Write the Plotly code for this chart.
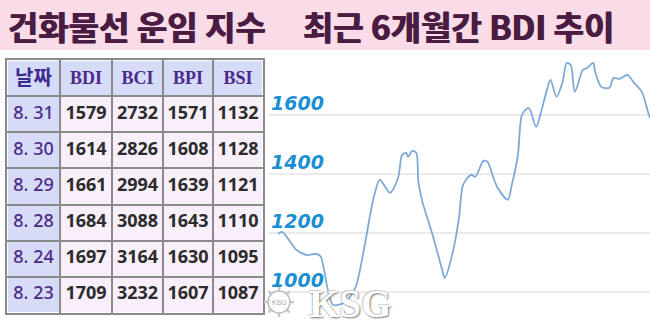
import plotly.graph_objects as go

# ---------------- data ----------------
table_dates = ["8. 31", "8. 30", "8. 29", "8. 28", "8. 24", "8. 23"]
bdi = [1579, 1614, 1661, 1684, 1697, 1709]
bci = [2732, 2826, 2994, 3088, 3164, 3232]
bpi = [1571, 1608, 1639, 1643, 1630, 1607]
bsi = [1132, 1128, 1121, 1110, 1095, 1087]
header_labels = ["날짜", "BDI", "BCI", "BPI", "BSI"]

line_dates = [
    "2018-03-01", "2018-03-03", "2018-03-10", "2018-03-15", "2018-03-20", "2018-03-22",
    "2018-03-28", "2018-04-03", "2018-04-08", "2018-04-12", "2018-04-15", "2018-04-17",
    "2018-04-20", "2018-04-25", "2018-04-29", "2018-05-01", "2018-05-03", "2018-05-04",
    "2018-05-06", "2018-05-08", "2018-05-09", "2018-05-11", "2018-05-16", "2018-05-21",
    "2018-05-22", "2018-05-26", "2018-05-29", "2018-05-31", "2018-06-04", "2018-06-06",
    "2018-06-10", "2018-06-12", "2018-06-15", "2018-06-17", "2018-06-22", "2018-06-24",
    "2018-06-27", "2018-06-29", "2018-07-02", "2018-07-03", "2018-07-06", "2018-07-08",
    "2018-07-11", "2018-07-13", "2018-07-16", "2018-07-19", "2018-07-21", "2018-07-23",
    "2018-07-25", "2018-07-29", "2018-07-31", "2018-08-03", "2018-08-04", "2018-08-07",
    "2018-08-11", "2018-08-13", "2018-08-16", "2018-08-20", "2018-08-22", "2018-08-24",
    "2018-08-27", "2018-08-30", "2018-08-31",
]
line_values = [
    1197, 1203, 1142, 1125, 1129, 1119,
    956, 966, 1014, 1136, 1251, 1319,
    1380, 1336, 1386, 1464, 1471, 1458,
    1478, 1471, 1373, 1305, 1193, 1068,
    1047, 1136, 1251, 1363, 1397, 1390,
    1444, 1441, 1386, 1353, 1312, 1363,
    1464, 1600, 1624, 1617, 1559, 1600,
    1678, 1719, 1661, 1712, 1776, 1769,
    1678, 1753, 1759, 1776, 1746, 1695,
    1692, 1725, 1722, 1736, 1719, 1702,
    1678, 1610, 1590,
]
y_ticks = [1000, 1200, 1400, 1600]

title_left = "건화물선 운임 지수"
title_right = "최근 6개월간 BDI 추이"
watermark = "KSG"

W, H = 650, 324


def py(px):
    """pixel y from top -> paper fraction"""
    return 1 - px / H


fig = go.Figure()

# ---------------- BDI line ----------------
fig.add_trace(go.Scatter(
    x=line_dates, y=line_values, mode="lines",
    line=dict(color="#7eaad8", width=1.8, shape="spline", smoothing=0.8),
    hoverinfo="skip", showlegend=False,
))

# ---------------- table (heatmap fills + text) ----------------
col_edges = [0, 53, 105, 156, 206, 256]          # layout widths of the table columns
n_rows = len(table_dates) + 1                     # header + data rows
row_edges = list(range(n_rows + 1))
col_mid = [(a + b) / 2 for a, b in zip(col_edges[:-1], col_edges[1:])]
row_mid = [r + 0.5 for r in range(n_rows)]

# 0 = blue header / date column, 1 = pink data cell
fill_z = [[0] * 5] + [[0] + [1] * 4 for _ in table_dates]
fig.add_trace(go.Heatmap(
    x=col_edges, y=row_edges, z=fill_z, xaxis="x2", yaxis="y2",
    colorscale=[[0, "#d6dbf8"], [1, "#f8effb"]], zmin=0, zmax=1,
    showscale=False, xgap=2, ygap=2, hoverinfo="skip",
))

# header text
fig.add_trace(go.Scatter(
    x=col_mid, y=[row_mid[0] + 0.04] * 5, xaxis="x2", yaxis="y2", mode="text",
    text=["<b>%s</b>" % h for h in header_labels],
    textfont=dict(family=["Noto Sans CJK KR"] + ["Liberation Serif"] * 4,
                  size=[20] + [18] * 4, color=["#3d2a90"] + ["#4b2a8a"] * 4),
    hoverinfo="skip", showlegend=False, cliponaxis=False,
))
# date column
fig.add_trace(go.Scatter(
    x=[col_mid[0]] * len(table_dates), y=row_mid[1:], xaxis="x2", yaxis="y2", mode="text",
    text=table_dates,
    textfont=dict(family="Noto Sans", size=18, color="#4e2a88", weight=500),
    hoverinfo="skip", showlegend=False, cliponaxis=False,
))
# number columns
for ci, series in enumerate([bdi, bci, bpi, bsi], start=1):
    fig.add_trace(go.Scatter(
        x=[col_mid[ci]] * len(series), y=row_mid[1:], xaxis="x2", yaxis="y2", mode="text",
        text=[str(v) for v in series],
        textfont=dict(family="Noto Sans", size=18, color="#2b2b2b", weight="bold"),
        hoverinfo="skip", showlegend=False, cliponaxis=False,
    ))

# ---------------- decorations ----------------
shapes = [
    dict(type="rect", xref="paper", yref="paper", x0=0, x1=1, y0=py(50), y1=1,
         fillcolor="#f9dce8", line=dict(width=0), layer="below"),
]
# watermark logo (ship wheel)
cx, cy, r = 279, 302, 11
for dx, dy in [(1, 0), (0, 1), (0.7, 0.7), (0.7, -0.7)]:
    shapes.append(dict(type="line", xref="paper", yref="paper",
                       x0=(cx - dx * (r + 4)) / W, x1=(cx + dx * (r + 4)) / W,
                       y0=py(cy - dy * (r + 4)), y1=py(cy + dy * (r + 4)),
                       line=dict(color="#c8c8c8", width=2.5)))
shapes.append(dict(type="circle", xref="paper", yref="paper",
                   x0=(cx - r) / W, x1=(cx + r) / W, y0=py(cy + r), y1=py(cy - r),
                   fillcolor="rgba(255,255,255,0.95)", line=dict(color="#bdbdbd", width=1.5)))

title_font = dict(family="Noto Sans CJK KR", size=33, color="#4a1c42", weight=900,
                  shadow="0.6px 0 0 #4a1c42, -0.6px 0 0 #4a1c42")
annotations = [
    dict(text="<b>%s</b>" % title_left, xref="paper", yref="paper", x=6 / W, y=py(26),
         xanchor="left", yanchor="middle", showarrow=False, font=title_font),
    dict(text="<b>%s</b>" % title_right, xref="paper", yref="paper", x=301 / W, y=py(26),
         xanchor="left", yanchor="middle", showarrow=False, font=title_font),
    dict(text="<b>%s</b>" % watermark, xref="paper", yref="paper", x=350 / W, y=py(303),
         xanchor="center", yanchor="middle", showarrow=False,
         font=dict(family="Liberation Serif", size=39, color="#ffffff",
                   shadow="1px 1px 2px #777777, -1px -1px 1px #cccccc")),
    dict(text=watermark, xref="paper", yref="paper", x=cx / W, y=py(cy),
         xanchor="center", yanchor="middle", showarrow=False,
         font=dict(family="Liberation Sans", size=7, color="#a8a8a8")),
]

fig.update_layout(
    width=W, height=H,
    margin=dict(l=0, r=0, t=0, b=0),
    paper_bgcolor="#ffffff", plot_bgcolor="#ffffff",
    shapes=shapes, annotations=annotations,
    xaxis=dict(domain=[268 / W, 1], range=["2018-02-24", "2018-08-31"],
               showgrid=False, showticklabels=False, zeroline=False, showline=False),
    yaxis=dict(domain=[0, py(55)], range=[891, 1803],
               tickvals=y_ticks, ticktext=[str(v) for v in y_ticks],
               ticklabelposition="inside top", ticks="", ticklabelshift=2,
               tickfont=dict(family="DejaVu Sans", size=19, color="#1c8fd3",
                             style="italic", weight="bold"),
               showgrid=True, gridcolor="#ebebeb", gridwidth=2,
               zeroline=False, showline=False),
    xaxis2=dict(domain=[7 / W, 263 / W], range=[0, 256], anchor="y2",
                tickvals=col_edges, showticklabels=False, ticks="",
                showgrid=True, gridcolor="#8a8a8a", gridwidth=1.5, zeroline=False,
                showline=True, mirror=True, linecolor="#8a8a8a", linewidth=1.5),
    yaxis2=dict(domain=[py(313), py(60)], range=[n_rows, 0], anchor="x2",
                tickvals=row_edges, showticklabels=False, ticks="",
                showgrid=True, gridcolor="#8a8a8a", gridwidth=1.5, zeroline=False,
                showline=True, mirror=True, linecolor="#8a8a8a", linewidth=1.5),
)

fig.write_html("out.html")
